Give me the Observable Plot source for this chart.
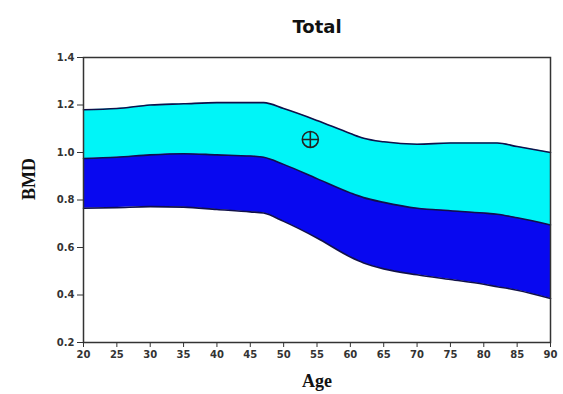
<!DOCTYPE html>
<html>
<head>
<meta charset="utf-8">
<script src="https://cdn.jsdelivr.net/npm/d3@7"></script>
<script src="https://cdn.jsdelivr.net/npm/@observablehq/plot@0.6"></script>
<style>
  body { margin: 0; background: #fff; width: 563px; height: 394px; overflow: hidden; }
  #title { height: 40px; width: 563px; position: relative; }
  #title span { position: absolute; left: 317px; top: 16px; transform: translateX(-50%);
    font-family: "DejaVu Sans", Arial, sans-serif; font-weight: bold; font-size: 18px; color: #111; }
</style>
</head>
<body>
<div id="title"><span>Total</span></div>
<div id="chart"></div>
<script>
const ages   = [20, 25, 30, 35, 40, 45, 47, 50, 55, 60, 62, 65, 70, 75, 80, 82, 85, 90];
const upper  = [1.18, 1.185, 1.2, 1.205, 1.21, 1.21, 1.21, 1.185, 1.135, 1.08, 1.06, 1.045, 1.035, 1.04, 1.04, 1.04, 1.025, 1.0];
const middle = [0.975, 0.98, 0.99, 0.995, 0.99, 0.985, 0.98, 0.95, 0.89, 0.83, 0.81, 0.79, 0.765, 0.755, 0.745, 0.74, 0.725, 0.695];
const lower  = [0.765, 0.768, 0.772, 0.77, 0.76, 0.75, 0.745, 0.71, 0.64, 0.56, 0.535, 0.51, 0.485, 0.465, 0.445, 0.435, 0.42, 0.385];
const xTicks = [20, 25, 30, 35, 40, 45, 50, 55, 60, 65, 70, 75, 80, 85, 90];
const yTicks = [0.2, 0.4, 0.6, 0.8, 1.0, 1.2, 1.4];
const pointAge = [54];
const pointBMD = [1.055];

const rows = ages.map((a, i) => ({age: a, up: upper[i], mid: middle[i], lo: lower[i]}));
const pts = pointAge.map((a, i) => ({age: a, bmd: pointBMD[i]}));

const circlePlus = {
  draw(ctx, size) {
    const r = Math.sqrt(size / Math.PI);
    ctx.moveTo(r, 0);
    ctx.arc(0, 0, r, 0, 2 * Math.PI);
    ctx.moveTo(-r, 0); ctx.lineTo(r, 0);
    ctx.moveTo(0, -r); ctx.lineTo(0, r);
  }
};

const curve = "monotone-x";
const chart = Plot.plot({
  width: 563,
  height: 354,
  marginTop: 17,
  marginLeft: 83,
  marginRight: 13,
  marginBottom: 52,
  style: {fontFamily: "'DejaVu Sans', Arial, sans-serif", fontSize: "10px", color: "#333", background: "white"},
  x: {domain: [20, 90], ticks: xTicks, tickSize: 5, tickFormat: d => String(d), label: null},
  y: {domain: [0.2, 1.4], ticks: yTicks, tickSize: 6, tickFormat: d => d.toFixed(1), label: null},
  marks: [
    Plot.areaY(rows, {x: "age", y1: "mid", y2: "up", fill: "#00f5f8", curve}),
    Plot.areaY(rows, {x: "age", y1: "lo", y2: "mid", fill: "#0808f0", curve}),
    Plot.lineY(rows, {x: "age", y: "up", stroke: "#10104a", strokeWidth: 1.6, curve}),
    Plot.lineY(rows, {x: "age", y: "mid", stroke: "#10104a", strokeWidth: 1.6, curve}),
    Plot.lineY(rows, {x: "age", y: "lo", stroke: "#10104a", strokeWidth: 1.6, curve}),
    Plot.dot(pts, {x: "age", y: "bmd", symbol: circlePlus, r: 8, stroke: "#222", strokeWidth: 1.6, fill: "#00f5f8"}),
    Plot.frame({stroke: "#333", strokeWidth: 1.5}),
    Plot.axisX({ticks: xTicks, tickSize: 5, tickPadding: 3, tickFormat: d => String(d), fontWeight: "bold", label: "Age", labelAnchor: "center", labelArrow: "none", labelOffset: 44, fill: "#333"}),
    Plot.axisY({ticks: yTicks, tickSize: 6, tickPadding: 3, tickFormat: d => d.toFixed(1), fontWeight: "bold", label: null, fill: "#333"}),
    Plot.text(["BMD"], {frameAnchor: "left", dx: -54, rotate: -90, fontSize: 18, fontWeight: "bold", fontFamily: "'Liberation Serif', 'Times New Roman', serif", fill: "#111"})
  ]
});
chart.querySelectorAll("[aria-label='x-axis label'] text").forEach(t => {
  t.setAttribute("font-family", "'Liberation Serif', 'Times New Roman', serif");
  t.setAttribute("font-size", "18");
  t.setAttribute("font-weight", "bold");
  t.setAttribute("fill", "#111");
});
document.getElementById("chart").appendChild(chart);
</script>
</body>
</html>
